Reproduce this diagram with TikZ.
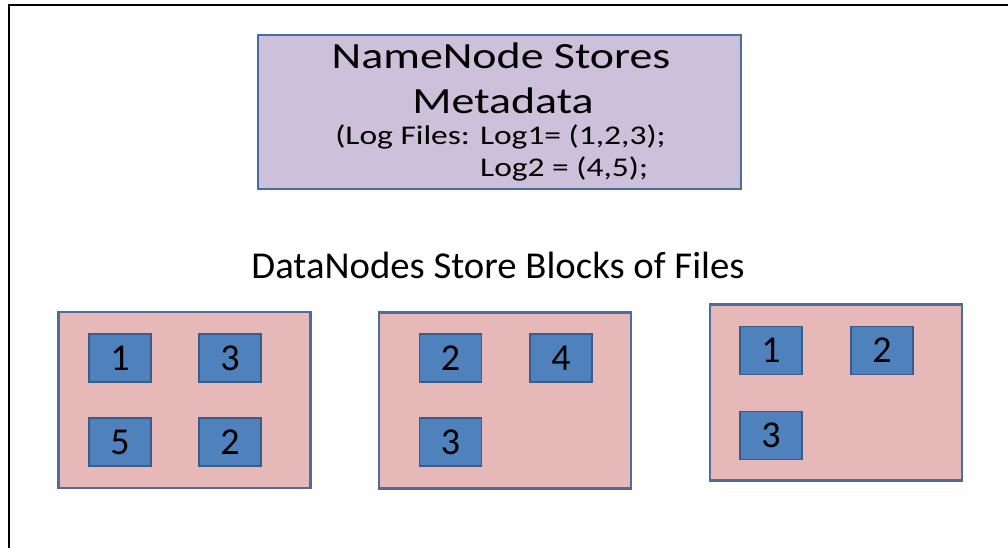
\documentclass[tikz,border=0pt]{standalone}
\usepackage{fontspec}
\setmainfont{Carlito}
\definecolor{lav}{HTML}{CCC0DA}
\definecolor{pinkf}{HTML}{E6B9B8}
\definecolor{blockf}{HTML}{4F81BD}
\definecolor{blockd}{HTML}{385D8A}
\definecolor{edgeb}{HTML}{4A6D9C}
\newcommand{\wide}[1]{\scalebox{1.24}[1]{#1}}
\tikzset{
  server/.style={draw=edgeb, line width=2.2pt, fill=pinkf, minimum width=252pt, minimum height=176pt, inner sep=0pt},
  blk/.style={draw=blockd, line width=1.5pt, fill=blockf, minimum width=62pt, minimum height=48pt, inner sep=0pt, font=\fontsize{38}{38}\selectfont},
  txt/.style={inner sep=0pt, anchor=base}
}
\begin{document}
\begin{tikzpicture}[x=1pt,y=-1pt]
\useasboundingbox (0,0) rectangle (1008,548);
\fill[white] (0,0) rectangle (1008,548);
\draw[line width=2.5pt] (9,560) -- (9,5) -- (1020,5);
% NameNode
\node[draw=edgeb, line width=2pt, fill=lav, minimum width=483pt, minimum height=154pt, inner sep=0pt] (nn) at (499.5,112) {};
\node[txt, font=\fontsize{37}{37}\selectfont] (t1) at (501,69) {\wide{NameNode Stores}};
\node[txt, font=\fontsize{37}{37}\selectfont] (t2) at (503,114) {\wide{Metadata}};
\node[txt, font=\fontsize{27}{27}\selectfont] (t3) at (500.5,145) {\wide{(Log Files: Log1= (1,2,3);}};
\node[txt, anchor=base west, font=\fontsize{27}{27}\selectfont] (t4) at (480,177) {\wide{Log2 = (4,5);}};
% heading
\node[txt, font=\fontsize{38}{38}\selectfont] (h) at (498,278) {\scalebox{1.02}[1]{DataNodes Store Blocks of Files}};
% DataNode 1
\node[server] (d1) at (184.5,400) {};
\node[blk] (d1a) at (120,358) {1};
\node[blk] (d1b) at (230,358) {3};
\node[blk] (d1c) at (120,442) {5};
\node[blk] (d1d) at (230,442) {2};
% DataNode 2
\node[server] (d2) at (505,400.5) {};
\node[blk] (d2a) at (450.5,358) {2};
\node[blk] (d2b) at (561,358) {4};
\node[blk] (d2c) at (450.5,442) {3};
% DataNode 3
\node[server] (d3) at (836,392.5) {};
\node[blk] (d3a) at (771,350.5) {1};
\node[blk] (d3b) at (882,350.5) {2};
\node[blk] (d3c) at (771,435.5) {3};
\end{tikzpicture}
\end{document}
